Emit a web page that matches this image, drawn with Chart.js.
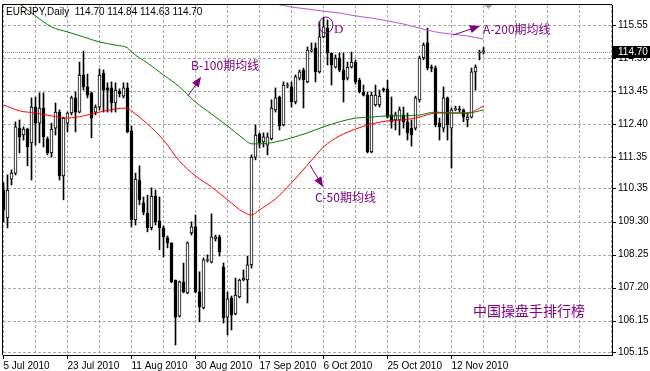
<!DOCTYPE html>
<html>
<head>
<meta charset="utf-8">
<script src="https://cdn.jsdelivr.net/npm/chart.js@4.4.0/dist/chart.umd.min.js"></script>
<style>
  html, body { margin: 0; padding: 0; background: #fff; }
  #wrap { width: 650px; height: 371px; }
</style>
</head>
<body>
<div id="wrap"><canvas id="chart"></canvas></div>
<script>
// EURJPY daily, one bar per trading day (Sunday bars included), bar 0 = 5 Jul 2010
const dateTicks = ['5 Jul 2010', '23 Jul 2010', '11 Aug 2010', '30 Aug 2010',
    '17 Sep 2010', '6 Oct 2010', '25 Oct 2010', '12 Nov 2010'];
const priceTicks = [115.55, 114.50, 113.45, 112.40, 111.35, 110.35, 109.30, 108.25, 107.20, 106.15, 105.15];

const opens = [110.30, 109.41, 110.65, 110.84, 112.27, 112.05, 112.24, 111.80, 112.94, 112.43,
    112.91, 111.93, 111.48, 112.27, 112.78, 110.75, 112.43, 112.75, 113.23, 112.78,
    113.96, 113.58, 113.39, 112.78, 112.94, 114.02, 113.55, 113.55, 113.07, 113.45,
    113.29, 113.55, 112.18, 109.35, 110.62, 109.89, 109.57, 109.10, 110.11, 109.32,
    109.10, 108.78, 108.62, 107.44, 106.29, 107.38, 107.03, 108.94, 109.13, 107.06,
    106.55, 108.06, 108.01, 108.75, 108.81, 107.85, 106.26, 106.87, 106.36, 106.90,
    107.44, 107.44, 107.92, 111.35, 112.08, 111.83, 111.73, 111.93, 112.85, 113.26,
    112.37, 113.61, 113.58, 113.10, 113.86, 114.12, 113.74, 114.72, 114.82, 114.06,
    115.17, 115.45, 114.66, 114.21, 114.50, 114.12, 113.86, 114.21, 114.37, 113.80,
    113.42, 113.32, 111.51, 113.01, 113.01, 113.52, 113.52, 112.69, 112.53, 112.53,
    112.69, 112.47, 112.27, 112.27, 113.17, 114.50, 114.98, 114.21, 114.18, 112.43,
    112.27, 113.23, 112.27, 112.86, 112.88, 112.85, 112.53, 112.62, 114.06, 114.66,
    114.70];
const highs = [110.53, 110.78, 110.94, 112.47, 112.53, 112.31, 112.27, 113.23, 113.26, 113.39,
    113.39, 111.99, 112.43, 113.07, 112.85, 112.62, 112.78, 113.29, 113.42, 114.37,
    114.72, 113.99, 113.42, 113.01, 114.15, 114.12, 113.71, 113.74, 113.71, 113.52,
    113.71, 113.71, 112.34, 110.84, 111.07, 110.08, 110.14, 110.37, 110.30, 110.08,
    109.16, 108.84, 108.62, 107.44, 107.41, 107.98, 108.65, 109.29, 109.51, 107.70,
    108.14, 108.24, 109.54, 108.87, 108.87, 107.98, 107.06, 106.93, 107.50, 107.47,
    107.76, 108.20, 111.42, 112.37, 112.12, 112.12, 112.12, 113.17, 113.55, 113.29,
    113.74, 113.71, 113.74, 113.96, 114.12, 114.18, 114.85, 114.98, 114.98, 115.65,
    115.77, 115.71, 114.66, 114.60, 114.66, 114.66, 114.37, 114.69, 114.44, 113.86,
    113.64, 113.42, 113.42, 113.64, 113.48, 113.55, 113.80, 113.26, 112.78, 112.94,
    112.94, 112.75, 112.53, 113.29, 114.56, 114.98, 115.45, 114.28, 114.25, 112.59,
    113.58, 113.26, 112.91, 112.97, 112.97, 112.88, 112.75, 114.18, 114.28, 114.75,
    114.84];
const lows = [109.29, 109.10, 110.46, 110.78, 111.48, 111.89, 111.07, 110.62, 111.73, 111.80,
    111.67, 111.42, 111.35, 112.05, 110.62, 109.99, 112.15, 112.69, 112.15, 112.75,
    113.48, 113.23, 111.96, 112.69, 112.85, 112.78, 112.78, 112.78, 112.78, 113.26,
    113.23, 112.12, 109.13, 109.19, 109.83, 109.51, 108.97, 109.03, 109.19, 108.40,
    108.17, 108.46, 107.35, 105.37, 106.26, 107.03, 107.00, 108.87, 107.03, 106.11,
    106.52, 108.01, 107.98, 108.68, 108.20, 106.07, 105.69, 105.85, 106.33, 106.87,
    107.41, 106.71, 107.82, 111.26, 111.64, 111.67, 111.42, 111.89, 112.78, 112.21,
    112.34, 113.55, 112.94, 113.04, 113.80, 112.91, 113.71, 114.69, 113.74, 114.02,
    115.14, 114.28, 113.64, 114.18, 114.06, 113.10, 113.80, 114.18, 113.67, 113.39,
    113.29, 111.48, 111.48, 112.97, 112.94, 113.42, 112.59, 112.27, 112.21, 112.05,
    112.27, 111.89, 111.70, 112.21, 113.10, 114.44, 114.12, 114.06, 112.31, 111.89,
    112.15, 111.89, 111.00, 112.82, 112.78, 112.47, 112.31, 112.59, 113.48, 114.44,
    114.63];
const closes = [109.67, 110.30, 110.84, 112.31, 111.99, 112.24, 111.67, 112.94, 112.43, 112.91,
    111.99, 111.48, 112.24, 112.78, 110.75, 112.59, 112.75, 113.23, 112.78, 113.96,
    113.58, 113.32, 112.59, 112.94, 113.96, 113.48, 113.48, 113.07, 113.48, 113.36,
    113.55, 112.15, 109.35, 110.65, 109.99, 109.60, 109.10, 110.11, 109.29, 109.10,
    108.81, 108.62, 107.38, 106.26, 107.38, 107.06, 108.62, 109.13, 107.06, 106.58,
    108.08, 108.08, 108.81, 108.81, 108.33, 106.23, 106.84, 106.33, 106.96, 107.44,
    107.50, 107.92, 111.35, 112.05, 111.80, 111.99, 111.99, 112.91, 113.23, 112.34,
    113.64, 113.64, 113.10, 113.90, 114.06, 113.80, 114.75, 114.75, 114.06, 115.17,
    115.49, 114.66, 114.28, 114.50, 114.12, 113.80, 114.21, 114.37, 113.74, 113.42,
    113.32, 111.51, 113.32, 113.32, 113.29, 113.48, 112.62, 112.47, 112.69, 112.85,
    112.47, 112.12, 112.05, 113.23, 114.50, 114.91, 114.18, 114.18, 112.37, 112.31,
    113.23, 112.37, 112.85, 112.88, 112.85, 112.62, 112.62, 114.06, 114.21, 114.69,
    114.70];

// moving averages at these bars
const maIndex = [0, 4, 8, 12, 16, 20, 24, 28, 31, 32, 36, 40, 44, 48, 52, 56, 60, 62, 64,
    68, 72, 76, 80, 84, 88, 92, 96, 100, 104, 108, 112, 116, 120];
const ma50 = [113.01, 112.82, 112.75, 112.66, 112.59, 112.66, 112.78, 112.88, 112.91, 112.82,
    112.40, 111.89, 111.22, 110.75, 110.40, 109.99, 109.60, 109.51, 109.67,
    110.02, 110.53, 111.10, 111.67, 112.02, 112.24, 112.40, 112.50, 112.53, 112.62,
    112.75, 112.75, 112.75, 112.97];
const ma100 = [116.54, 116.22, 115.84, 115.49, 115.33, 115.17, 115.01, 114.91, 114.82, 114.69,
    114.34, 113.96, 113.58, 113.10, 112.72, 112.34, 111.93, 111.77, 111.77,
    111.83, 111.96, 112.12, 112.31, 112.47, 112.59, 112.62, 112.66, 112.66, 112.69,
    112.78, 112.75, 112.75, 112.85];
const ma200Index = [60, 64, 68, 72, 76, 80, 84, 88, 92, 96, 100, 104, 108, 112, 116, 120];
const ma200 = [116.44, 116.31, 116.22, 116.12, 116.06, 115.99, 115.93, 115.84, 115.77, 115.68,
    115.58, 115.45, 115.33, 115.26, 115.20, 115.10];

// hand-drawn notes, anchored at [bar, price]
const notes = [
    { text: 'B-100期均线', at: [46.9, 114.25], font: '12px "Noto Sans CJK SC"' },
    { text: 'A-200期均线', at: [119.9, 115.42], font: '12px "Noto Sans CJK SC"' },
    { text: 'C-50期均线', at: [77.9, 110.08], font: '12px "Noto Sans CJK SC"' },
    { text: 'D', at: [82.6, 115.42], font: '13px "Liberation Serif"' },
    { text: '中国操盘手排行榜', at: [117.4, 106.46], font: '14px "Noto Sans CJK SC"' },
];
const arrows = [
    { from: [46.1, 113.29], to: [49.4, 113.90] },
    { from: [112.4, 115.23], to: [119.1, 115.52] },
    { from: [76.6, 111.10], to: [79.9, 110.40] },
];
const circleAt = [80.6, 115.55];

const noteColor = '#800080';
const last = closes.length - 1;

const bodies = opens.map((o, i) => ({ x: i, y: [o, closes[i]] }));
const wicks = lows.map((l, i) => ({ x: i, y: [l, highs[i]] }));

function drawArrow(ctx, x1, y1, x2, y2) {
    const ang = Math.atan2(y2 - y1, x2 - x1);
    ctx.beginPath();
    ctx.moveTo(x1, y1);
    ctx.lineTo(x2 - 6 * Math.cos(ang), y2 - 6 * Math.sin(ang));
    ctx.stroke();
    ctx.beginPath();
    ctx.moveTo(x2, y2);
    ctx.lineTo(x2 - 10 * Math.cos(ang) + 4 * Math.sin(ang), y2 - 10 * Math.sin(ang) - 4 * Math.cos(ang));
    ctx.lineTo(x2 - 10 * Math.cos(ang) - 4 * Math.sin(ang), y2 - 10 * Math.sin(ang) + 4 * Math.cos(ang));
    ctx.closePath();
    ctx.fill();
}

const isLabelled = (v) => v % 16 === 0 && v / 16 < dateTicks.length;

const decor = {
    id: 'decor',
    beforeDraw(chart) {
        const ctx = chart.ctx;
        ctx.save();
        ctx.fillStyle = '#fff';
        ctx.fillRect(0, 0, chart.width, chart.height);
        ctx.restore();
    },
    beforeDatasetsDraw(chart) {
        const { ctx, chartArea: a, scales: { x, y } } = chart;
        const top = Math.round(a.top), bottom = Math.round(a.bottom);
        const left = Math.round(a.left), right = Math.round(a.right);
        ctx.save();
        // dashed grid from the scale ticks, dashes as 1px rectangles
        ctx.fillStyle = '#a8a8a8';
        x.ticks.forEach(t => {
            const gx = Math.round(x.getPixelForValue(t.value) - 0.5);
            for (let yy = top; yy < bottom; yy += 5) {
                ctx.fillRect(gx, yy, 1, Math.min(3, bottom - yy));
            }
        });
        y.ticks.forEach(t => {
            const gy = Math.round(y.getPixelForValue(t.value));
            for (let xx = left; xx < right; xx += 5) {
                ctx.fillRect(xx, gy, Math.min(3, right - xx), 1);
            }
        });
        // tick marks
        ctx.fillStyle = '#000';
        x.ticks.filter(t => isLabelled(t.value)).forEach(t => {
            const gx = Math.round(x.getPixelForValue(t.value) - 0.5);
            ctx.fillRect(gx, bottom, 1, 4);
        });
        y.ticks.forEach(t => {
            const gy = Math.round(y.getPixelForValue(t.value));
            ctx.fillRect(right, gy, 4, 1);
        });
        // bid line, dotted
        const by = Math.round(y.getPixelForValue(closes[last]));
        ctx.fillStyle = '#8c8c8c';
        for (let xx = left; xx < right; xx += 2) {
            ctx.fillRect(xx, by, 1, 1);
        }
        ctx.restore();
    },
    afterDatasetsDraw(chart) {
        const { ctx, chartArea: a, scales: { x, y } } = chart;
        const px = (p) => [x.getPixelForValue(p[0]), y.getPixelForValue(p[1])];
        ctx.save();
        // frame on left and top
        ctx.strokeStyle = '#000';
        ctx.lineWidth = 1;
        ctx.beginPath();
        ctx.moveTo(a.left - 0.5, a.bottom);
        ctx.lineTo(a.left - 0.5, a.top - 0.5);
        ctx.lineTo(a.right, a.top - 0.5);
        ctx.stroke();

        // shift marker
        const sx = Math.round(x.getPixelForValue(121.2)) + 0.5;
        ctx.fillStyle = '#a0a0a0';
        ctx.beginPath();
        ctx.moveTo(sx - 4, a.top);
        ctx.lineTo(sx + 4, a.top);
        ctx.lineTo(sx, a.top + 4);
        ctx.closePath();
        ctx.fill();

        // notes
        ctx.strokeStyle = noteColor;
        ctx.fillStyle = noteColor;
        arrows.forEach(ar => {
            const [x1, y1] = px(ar.from);
            const [x2, y2] = px(ar.to);
            drawArrow(ctx, x1, y1, x2, y2);
        });
        const [cx, cy] = px(circleAt);
        ctx.beginPath();
        ctx.ellipse(cx, cy, 7, 8, 0, 0, Math.PI * 2);
        ctx.stroke();
        ctx.textBaseline = 'middle';
        ctx.textAlign = 'left';
        notes.forEach(n => {
            const [tx, ty] = px(n.at);
            ctx.font = n.font;
            ctx.fillText(n.text, tx, ty);
        });

        // header
        ctx.fillStyle = '#000';
        ctx.font = '10px "Liberation Sans", Arial, sans-serif';
        ctx.fillText('EURJPY,Daily  ' + [opens[last], highs[last], lows[last], closes[last]]
            .map(v => v.toFixed(2)).join(' '), 6, 12);
        ctx.restore();
    },
    afterDraw(chart) {
        const { ctx, chartArea: a, scales: { y } } = chart;
        const by = y.getPixelForValue(closes[last]);
        ctx.save();
        ctx.fillStyle = '#000';
        ctx.fillRect(a.right + 1, Math.round(by) - 6, chart.width - a.right - 1, 12);
        ctx.fillStyle = '#fff';
        ctx.font = '10px "Liberation Sans", Arial, sans-serif';
        ctx.textBaseline = 'middle';
        ctx.fillText(closes[last].toFixed(2), a.right + 6, Math.round(by) + 0.5);
        ctx.restore();
    }
};

new Chart(document.getElementById('chart'), {
    type: 'bar',
    data: {
        datasets: [
            {
                type: 'line', label: 'MA200', data: ma200Index.map((d, i) => ({ x: d, y: ma200[i] })),
                borderColor: '#ba55d3', borderWidth: 1, pointRadius: 0, cubicInterpolationMode: 'monotone', order: 0
            },
            {
                type: 'line', label: 'MA100', data: maIndex.map((d, i) => ({ x: d, y: ma100[i] })),
                borderColor: '#008000', borderWidth: 1, pointRadius: 0, cubicInterpolationMode: 'monotone', order: 0
            },
            {
                type: 'line', label: 'MA50', data: maIndex.map((d, i) => ({ x: d, y: ma50[i] })),
                borderColor: '#ff0000', borderWidth: 1, pointRadius: 0, cubicInterpolationMode: 'monotone', order: 0
            },
            {
                label: 'body', data: bodies, grouped: false, barThickness: 3, minBarLength: 1,
                backgroundColor: bodies.map(b => b.y[1] >= b.y[0] ? '#ffffff' : '#000000'),
                borderColor: '#000', borderWidth: 1, borderSkipped: false, order: 1
            },
            {
                label: 'wick', data: wicks, grouped: false, barThickness: 1,
                backgroundColor: '#000', borderWidth: 0, order: 2
            }
        ]
    },
    options: {
        responsive: true,
        maintainAspectRatio: false,
        animation: false,
        events: [],
        layout: { padding: { left: 3, top: 5, right: 0, bottom: 0 } },
        plugins: { legend: { display: false }, tooltip: { enabled: false } },
        scales: {
            x: {
                type: 'linear',
                offset: false,
                min: -0.125,
                max: 152.125,
                afterBuildTicks: (s) => { s.ticks = Array.from({ length: 20 }, (_, k) => ({ value: k * 8 })); },
                afterFit: (s) => { s.height = 16; s.paddingLeft = 0; s.paddingRight = 0; },
                ticks: {
                    autoSkip: false, maxRotation: 0, align: 'start', padding: 5, color: '#000',
                    font: { family: '"Liberation Sans", Arial, sans-serif', size: 10 },
                    callback: (v) => (isLabelled(v) ? dateTicks[v / 16] : '')
                },
                grid: { display: false, offset: false, drawTicks: false },
                border: { display: true, color: '#000', width: 1 }
            },
            y: {
                position: 'right',
                min: 105.054,
                max: 116.186,
                afterBuildTicks: (s) => { s.ticks = priceTicks.map(v => ({ value: v })); },
                afterFit: (s) => { s.width = 38; s.paddingTop = 0; s.paddingBottom = 0; },
                ticks: {
                    autoSkip: false, padding: 6, color: '#000',
                    font: { family: '"Liberation Sans", Arial, sans-serif', size: 10 },
                    callback: (v) => v.toFixed(2)
                },
                grid: { display: false, drawTicks: false },
                border: { display: true, color: '#000', width: 1 }
            }
        }
    },
    plugins: [decor]
});
</script>
</body>
</html>
